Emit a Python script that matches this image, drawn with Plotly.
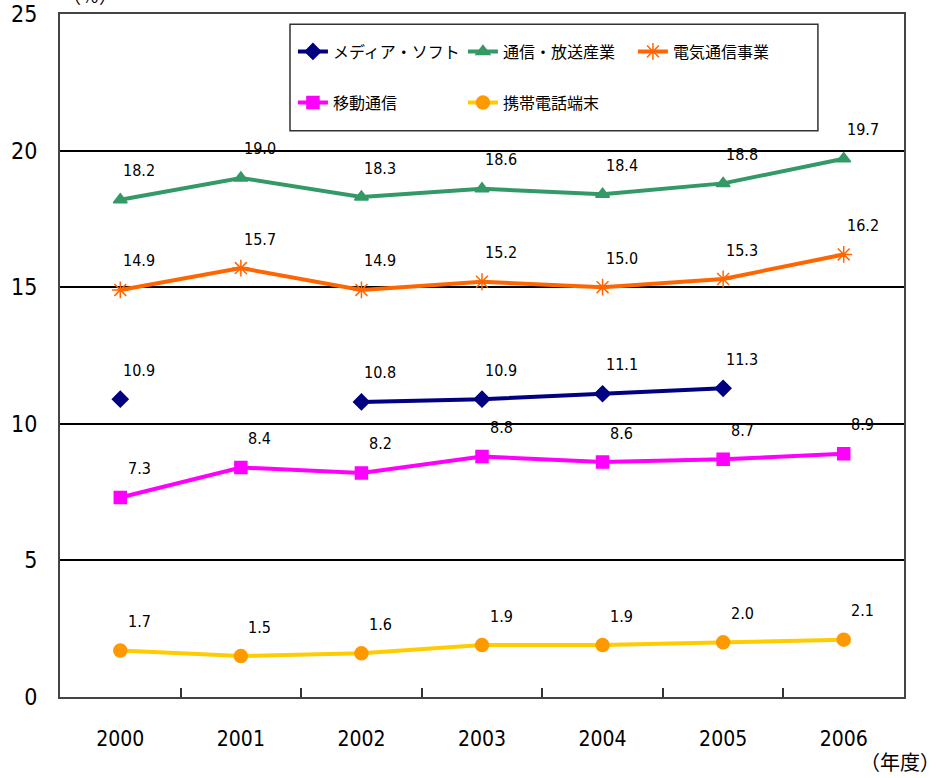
import plotly.graph_objects as go

# Data
years = ["2000", "2001", "2002", "2003", "2004", "2005", "2006"]
media_soft = [10.9, None, 10.8, 10.9, 11.1, 11.3, None]
tsushin_hoso = [18.2, 19.0, 18.3, 18.6, 18.4, 18.8, 19.7]
denki_tsushin = [14.9, 15.7, 14.9, 15.2, 15.0, 15.3, 16.2]
ido_tsushin = [7.3, 8.4, 8.2, 8.8, 8.6, 8.7, 8.9]
keitai_tanmatsu = [1.7, 1.5, 1.6, 1.9, 1.9, 2.0, 2.1]

series = [
    # name, values, line colour, marker colour, symbol, size, legend
    ("メディア・ソフト", media_soft, "#000080", "#000080", "diamond", 12, "legend"),
    ("通信・放送産業", tsushin_hoso, "#339966", "#339966", "triangle-up", 12, "legend"),
    ("電気通信事業", denki_tsushin, "#FF6600", "#FF6600", "asterisk-open", 14, "legend"),
    ("移動通信", ido_tsushin, "#FF00FF", "#FF00FF", "square", 12, "legend2"),
    ("携帯電話端末", keitai_tanmatsu, "#FFCC00", "#FF9900", "circle", 13, "legend2"),
]

num_font = "DejaVu Sans Condensed, Liberation Sans Narrow, sans-serif"
jp_font = "Noto Sans CJK JP, sans-serif"

fig = go.Figure()
for name, vals, lcol, mcol, sym, size, leg in series:
    fig.add_trace(go.Scatter(
        x=years, y=vals, name=name, mode="lines+markers",
        line=dict(color=lcol, width=4),
        marker=dict(color=mcol, symbol=sym, size=size,
                    line=dict(color=mcol, width=1.5)),
        legend=leg, connectgaps=False,
    ))
    # Value labels above-right of each point (x given as category index)
    for i, v in enumerate(vals):
        if v is None:
            continue
        fig.add_annotation(x=i, y=v, text=f"{v:.1f}", showarrow=False,
                           xshift=19, yshift=29,
                           font=dict(family=num_font, size=16, color="#000"))

# Unit labels: y unit (cut off at the top edge) and x unit
fig.add_annotation(xref="paper", yref="paper", x=0.036, y=1.006,
                   xanchor="center", yanchor="bottom",
                   text="（％）", showarrow=False,
                   font=dict(family=jp_font, size=18, color="#000"))
fig.add_annotation(xref="paper", yref="paper", x=0.995, y=-0.095,
                   xanchor="center", yanchor="middle",
                   text="（年度）", showarrow=False,
                   font=dict(family=jp_font, size=20, color="#000"))

# Legend box
fig.add_shape(type="rect", xref="paper", yref="paper",
              x0=0.2725, x1=0.898, y0=0.829, y1=0.985,
              line=dict(color="#333", width=1.5), fillcolor="white", layer="below")

leg_common = dict(orientation="h", xref="paper", yref="paper",
                  xanchor="left", yanchor="top", entrywidth=125,
                  entrywidthmode="pixels", bgcolor="rgba(0,0,0,0)",
                  font=dict(family=jp_font, size=16, color="#000"))

fig.update_layout(
    width=937, height=778,
    margin=dict(l=60, r=33, t=14, b=81),
    plot_bgcolor="white", paper_bgcolor="white",
    showlegend=True,
    legend=dict(x=0.276, y=0.970, **leg_common),
    legend2=dict(x=0.276, y=0.895, **leg_common),
    xaxis=dict(type="category", tickson="boundaries", ticks="inside",
               ticklen=9, tickcolor="#333", tickwidth=1.5,
               showline=True, linecolor="#444", linewidth=2, mirror=True,
               showgrid=False, range=[-0.5, 6.5], automargin=False,
               tickfont=dict(family=num_font, size=21, color="#000"),
               ticklabelstandoff=22),
    yaxis=dict(range=[0, 25], dtick=5, showgrid=True, gridcolor="#000",
               gridwidth=1.5, showline=True, linecolor="#444", linewidth=2,
               mirror=True, zeroline=False, ticks="", automargin=False,
               ticklabeloverflow="allow",
               tickfont=dict(family=num_font, size=23, color="#000"),
               ticklabelstandoff=16),
)

# drop the page's default body margin so the figure sits at the window's corner
fig.write_html("out.html", config={"displayModeBar": False},
               post_script="document.body.style.margin='0';")
